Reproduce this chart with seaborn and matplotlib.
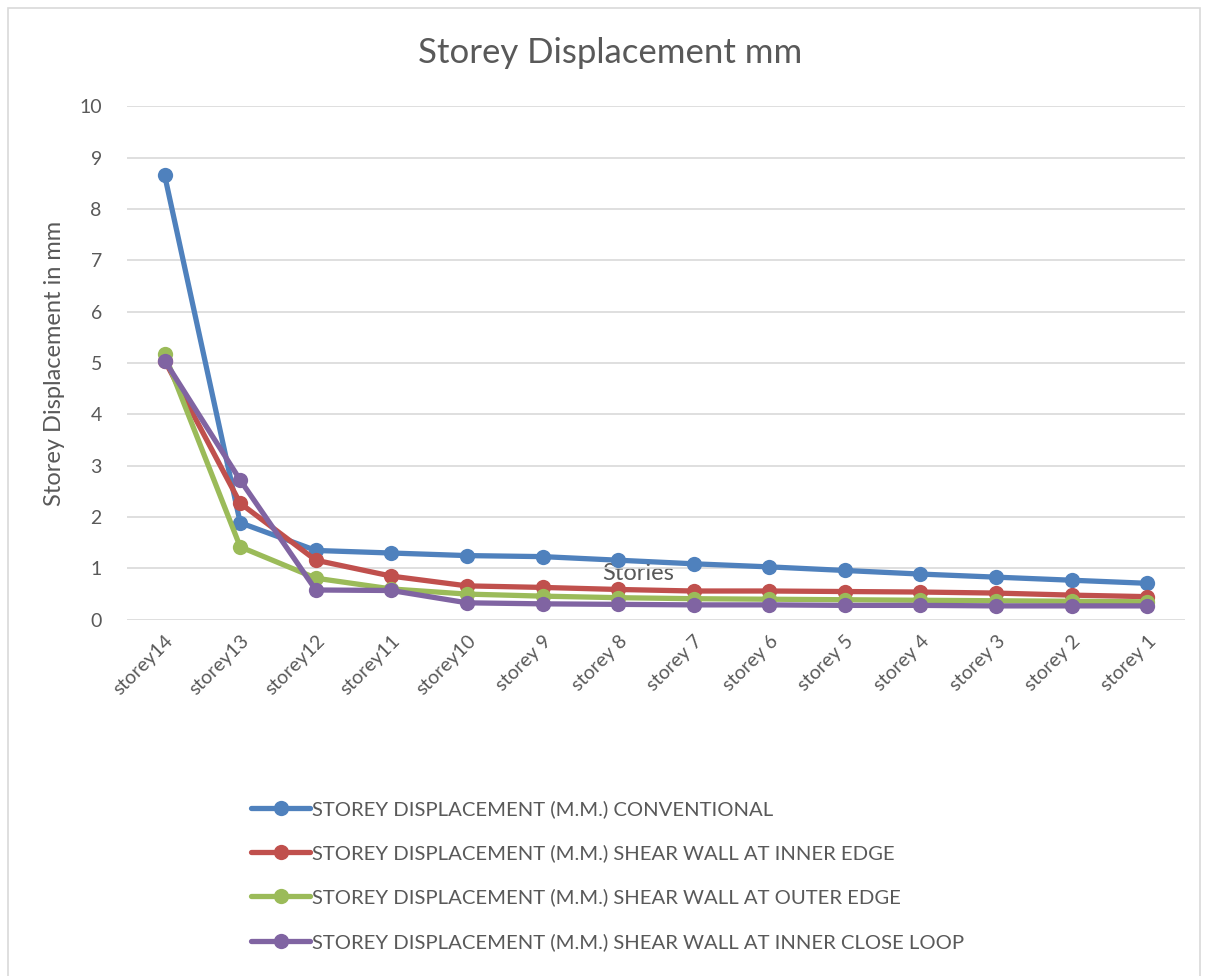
import numpy as np
import pandas as pd
import matplotlib
matplotlib.use('Agg')
import matplotlib.pyplot as plt
import seaborn as sns

# data
stories = ['storey14', 'storey13', 'storey12', 'storey11', 'storey10', 'storey 9', 'storey 8',
           'storey 7', 'storey 6', 'storey 5', 'storey 4', 'storey 3', 'storey 2', 'storey 1']
conventional = [8.66, 1.89, 1.35, 1.30, 1.25, 1.23, 1.16, 1.09, 1.03, 0.96, 0.89, 0.83, 0.77, 0.71]
inner_edge = [5.05, 2.27, 1.16, 0.85, 0.66, 0.63, 0.59, 0.56, 0.56, 0.55, 0.54, 0.52, 0.48, 0.45]
outer_edge = [5.17, 1.42, 0.81, 0.60, 0.50, 0.46, 0.43, 0.41, 0.40, 0.39, 0.38, 0.37, 0.36, 0.35]
close_loop = [5.05, 2.72, 0.58, 0.57, 0.33, 0.31, 0.30, 0.29, 0.29, 0.28, 0.28, 0.27, 0.27, 0.27]

series_names = ['STOREY DISPLACEMENT (M.M.) CONVENTIONAL',
                'STOREY DISPLACEMENT (M.M.) SHEAR WALL AT INNER EDGE',
                'STOREY DISPLACEMENT (M.M.) SHEAR WALL AT OUTER EDGE',
                'STOREY DISPLACEMENT (M.M.) SHEAR WALL AT INNER CLOSE LOOP']
colors = ['#4F81BD', '#C0504D', '#9BBB59', '#8064A2']

sns.set_style('white')
plt.rcParams['font.family'] = ['Lato', 'DejaVu Sans']
text_col = '#595959'

df = pd.DataFrame({'Stories': stories * 4,
                   'Displacement': conventional + inner_edge + outer_edge + close_loop,
                   'Series': np.repeat(series_names, len(stories))})

fig = plt.figure(figsize=(12.08, 9.76), dpi=100)
ax = fig.add_axes([0.105, 0.365, 0.876, 0.526])

sns.lineplot(data=df, x='Stories', y='Displacement', hue='Series', palette=colors,
             marker='o', markersize=11, markeredgewidth=0, linewidth=3.8, sort=False, ax=ax)

ax.set_ylim(0, 10)
ax.set_xlim(-0.5, len(stories) - 0.5)
ax.set_yticks(range(0, 11))
ax.yaxis.grid(True, color='#D9D9D9', linewidth=1.2)
ax.set_axisbelow(True)
for s in ax.spines.values():
    s.set_visible(False)
ax.tick_params(axis='both', length=0, labelsize=14, colors=text_col)
plt.setp(ax.get_xticklabels(), rotation=45, ha='right', rotation_mode='anchor')
ax.tick_params(axis='x', pad=9)
ax.tick_params(axis='y', pad=18)

fig.text(0.505, 0.946, 'Storey Displacement mm', fontsize=25, color=text_col,
         ha='center', va='center')
ax.set_ylabel('Storey Displacement in mm', fontsize=17, color=text_col, labelpad=10)
ax.set_xlabel('Stories', fontsize=17, color=text_col)
ax.xaxis.set_label_coords(0.483, 0.11)

handles, labels = ax.get_legend_handles_labels()
ax.legend(handles, labels, loc='upper left', bbox_to_anchor=(0.193, 0.199),
          bbox_transform=fig.transFigure, frameon=False, fontsize=14.6,
          labelcolor=text_col, handlelength=2.9, handletextpad=0.1, labelspacing=1.3)

fig.patches.append(plt.Rectangle((8 / 1208, -0.01), 1192 / 1208, 1 - 8 / 976 + 0.01,
                                 transform=fig.transFigure, fill=False,
                                 edgecolor='#D9D9D9', linewidth=1.2))

fig.savefig('out.png', dpi=100)
